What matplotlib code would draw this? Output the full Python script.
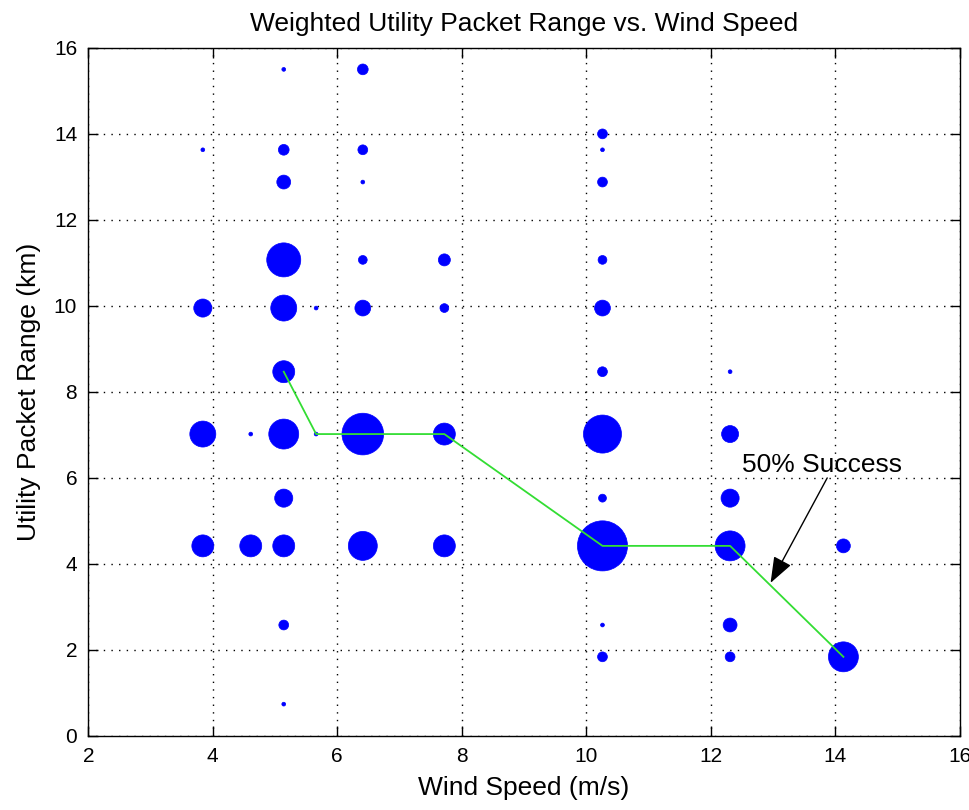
import matplotlib
matplotlib.use("Agg")
import matplotlib.pyplot as plt

plt.rcParams['font.family'] = ['Liberation Sans', 'DejaVu Sans']

# wind speed columns (m/s), range levels (km) and the weight of each point
wind = [3.84, 3.84, 3.84, 3.84,
        4.61, 4.61,
        5.14, 5.14, 5.14, 5.14, 5.14, 5.14, 5.14, 5.14, 5.14, 5.14, 5.14,
        5.66, 5.66,
        6.41, 6.41, 6.41, 6.41, 6.41, 6.41, 6.41,
        7.72, 7.72, 7.72, 7.72,
        10.26, 10.26, 10.26, 10.26, 10.26, 10.26, 10.26, 10.26, 10.26, 10.26, 10.26,
        12.31, 12.31, 12.31, 12.31, 12.31, 12.31,
        14.13, 14.13]
rng = [13.63, 9.95, 7.02, 4.42,
       7.02, 4.42,
       15.5, 13.63, 12.88, 11.07, 9.95, 8.47, 7.02, 5.53, 4.42, 2.58, 0.74,
       9.95, 7.02,
       15.5, 13.63, 12.88, 11.07, 9.95, 7.02, 4.42,
       11.07, 9.95, 7.02, 4.42,
       14.0, 13.63, 12.88, 11.07, 9.95, 8.47, 7.02, 5.53, 4.42, 2.58, 1.84,
       8.47, 7.02, 5.53, 4.42, 2.58, 1.84,
       4.42, 1.84]
weight = [0.15, 3.4, 7.0, 5.0,
          0.15, 5.0,
          0.15, 1.2, 2.0, 12.0, 7.0, 5.0, 9.3, 3.4, 5.0, 1.0, 0.15,
          0.15, 0.15,
          1.2, 1.0, 0.15, 0.8, 2.6, 18.0, 8.7,
          1.5, 0.8, 5.0, 5.0,
          1.0, 0.15, 1.0, 0.8, 2.6, 1.0, 15.0, 0.65, 26.0, 0.15, 1.0,
          0.15, 3.0, 3.4, 9.3, 2.0, 1.0,
          2.0, 9.3]

# 50% success curve
curve_x = [5.14, 5.66, 7.72, 10.26, 12.31, 14.13]
curve_y = [8.47, 7.02, 7.02, 4.42, 4.42, 1.84]

fig = plt.figure(figsize=(9.7, 8.1), dpi=100)
ax = fig.add_axes([0.091, 0.0914, 0.8985, 0.8495])

ax.scatter(wind, rng, s=[w * 50 for w in weight], c='#0000ff',
           edgecolors='#0000ff', linewidths=0.5, zorder=3)
ax.plot(curve_x, curve_y, color='#33dd33', linewidth=1.3, zorder=4)

ax.annotate('', xy=(12.96, 3.56), xytext=(13.87, 6.0),
            arrowprops=dict(arrowstyle='-|>,head_length=1.6,head_width=0.6',
                            color='black', linewidth=1.0, shrinkA=0, shrinkB=0),
            zorder=5)
ax.text(12.5, 6.3, '50% Success', fontsize=19, va='center', ha='left', zorder=5)

ax.set_xlim(2, 16)
ax.set_ylim(0, 16)
ax.set_xticks(range(2, 17, 2))
ax.set_yticks(range(0, 17, 2))
ax.grid(True, color='black', linestyle=(0, (1, 4.5)), linewidth=1.0)
ax.tick_params(direction='in', length=7, width=1, top=True, right=True,
               labelsize=15, pad=8)
for sp in ax.spines.values():
    sp.set_linewidth(1.0)

ax.set_title('Weighted Utility Packet Range vs. Wind Speed', fontsize=19, pad=12)
ax.set_xlabel('Wind Speed (m/s)', fontsize=19, labelpad=7)
ax.set_ylabel('Utility Packet Range (km)', fontsize=19, labelpad=9)

fig.savefig('out.png', dpi=100)
